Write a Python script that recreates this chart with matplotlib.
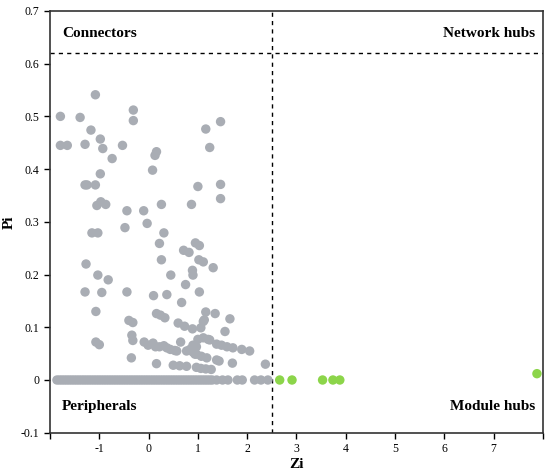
import matplotlib
matplotlib.use("Agg")
import matplotlib.pyplot as plt

plt.rcParams.update({
    "font.family": ["Liberation Serif", "DejaVu Serif"],
    "font.size": 8.5,
})

# ── Data ──────────────────────────────────────────────────────────────────────
# gray nodes with Pi > 0
zi_gray = [
    -1.79, -1.39, -1.08, -1.17, -0.98, -0.93, -1.79, -1.65, -1.29, -0.74, -0.53,
    -0.31, -0.31, 0.16, 0.13, 0.08, -0.98, -1.29, -1.25, -1.08, -0.97, -1.05,
    -0.87, -0.44, -0.10, -0.03, -0.48, 0.26, 0.31, 0.22, 0.26, -1.15, -1.03,
    -1.27, -1.03, -0.82, 0.45, 0.87, 1.00, 1.16, 1.24, 1.46, 1.46, 1.46, 0.95,
    1.03, 0.71, 0.82, 1.02, 1.11, 1.31, 0.89, 0.90,
    -1.29, -0.95, -0.44, 0.10, 0.37, 0.75, 1.03, 0.67, -1.07, 0.16, 0.24, 0.33,
    1.16, 1.35, 1.13, 1.11, 1.65, -0.40, -0.32, 0.60, 0.73, 0.89, 1.06, 1.55,
    -0.34, -0.32, -1.07, -1.00,
    -0.09, -0.01, 0.09, 0.14, 0.22, 0.31, 0.37, 0.44, 0.53, 0.65, 0.77, 0.84,
    0.90, 0.97, 1.00, 1.11, 1.21, 0.97, 1.07, 1.18, 1.38, 1.48, 1.59, 1.71,
    1.89, 2.05, 1.38, 1.43, 1.70, 0.16, -0.35, 0.50, 0.63, 0.77, 0.97, 1.06,
    1.16, 1.27, 2.37, 0.57, 0.90, 1.24, 0.94,
]
pi_gray = [
    0.500, 0.498, 0.541, 0.474, 0.457, 0.439, 0.445, 0.445, 0.447, 0.420, 0.445,
    0.512, 0.492, 0.433, 0.426, 0.398, 0.391, 0.370, 0.370, 0.370, 0.338, 0.331,
    0.333, 0.321, 0.321, 0.297, 0.289, 0.333, 0.279, 0.259, 0.228, 0.279, 0.279,
    0.220, 0.199, 0.190, 0.199, 0.333, 0.367, 0.476, 0.441, 0.490, 0.371, 0.344, 0.260,
    0.255, 0.246, 0.242, 0.228, 0.224, 0.213, 0.208, 0.199,
    0.167, 0.166, 0.167, 0.160, 0.162, 0.181, 0.167, 0.147, 0.130, 0.126, 0.123, 0.118,
    0.129, 0.126, 0.114, 0.111, 0.116, 0.113, 0.109, 0.108, 0.102, 0.097, 0.099, 0.092,
    0.085, 0.075, 0.072, 0.067,
    0.072, 0.066, 0.070, 0.063, 0.063, 0.065, 0.061, 0.058, 0.056, 0.072, 0.055, 0.058,
    0.053, 0.063, 0.077, 0.080, 0.077, 0.049, 0.045, 0.042, 0.068, 0.066, 0.063, 0.061,
    0.058, 0.055, 0.038, 0.036, 0.032, 0.031, 0.042, 0.028, 0.027, 0.026, 0.024, 0.022,
    0.021, 0.020, 0.030, 0.055, 0.066, 0.076, 0.049,
]

# gray nodes sitting on Pi = 0 (peripherals strip)
zi_base = [
    -1.86, -1.81, -1.76, -1.71, -1.66, -1.61, -1.56, -1.51, -1.46, -1.41, -1.36,
    -1.31, -1.26, -1.21, -1.16, -1.11, -1.06, -1.01, -0.96, -0.91, -0.86, -0.81,
    -0.76, -0.71, -0.66, -0.61, -0.56, -0.51, -0.46, -0.41, -0.36, -0.31, -0.26,
    -0.21, -0.16, -0.11, -0.06, -0.01, 0.04, 0.09, 0.14, 0.19, 0.24, 0.29, 0.34,
    0.39, 0.44, 0.49, 0.54, 0.59, 0.64, 0.69, 0.74, 0.79, 0.84, 0.89, 0.94, 0.99,
    1.04, 1.09, 1.14, 1.19, 1.24, 1.29, 1.38, 1.50, 1.61, 1.80, 1.90, 2.15, 2.28,
    2.42,
]
pi_base = [0.0] * len(zi_base)

# module hubs (green)
zi_hub = [2.66, 2.91, 3.53, 3.74, 3.88, 7.88]
pi_hub = [0.0, 0.0, 0.0, 0.0, 0.0, 0.012]

ZI_CUT = 2.5
PI_CUT = 0.62

GRAY = "#a9adb4"
GREEN = "#8cd54a"

# ── Plot ──────────────────────────────────────────────────────────────────────
fig = plt.figure(figsize=(5.5, 4.75), dpi=100)
ax = fig.add_axes([0.091, 0.089, 0.896, 0.888])

ax.scatter(zi_base, pi_base, s=46, color=GRAY, edgecolors="none", zorder=3)
ax.scatter(zi_gray, pi_gray, s=46, color=GRAY, edgecolors="none", zorder=3)
ax.scatter(zi_hub, pi_hub, s=46, color=GREEN, edgecolors="none", zorder=3)

ax.axvline(ZI_CUT, color="black", ls=(0, (3, 3)), lw=1, zorder=2)
ax.axhline(PI_CUT, color="black", ls=(0, (3, 3)), lw=1, zorder=2)

ax.set_xlim(-2, 8)
ax.set_ylim(-0.1, 0.7)
ax.set_xticks(range(-2, 9))
ax.set_xticklabels([""] + [str(v) for v in range(-1, 8)] + [""])
yt = [-0.1, 0, 0.1, 0.2, 0.3, 0.4, 0.5, 0.6, 0.7]
ax.set_yticks(yt)
ax.set_yticklabels(["-0.1", "0", "0.1", "0.2", "0.3", "0.4", "0.5", "0.6", "0.7"])
ax.tick_params(direction="out", length=4, width=1, colors="black", labelsize=8.5)

for sp in ax.spines.values():
    sp.set_linewidth(1.2)
    sp.set_color("#333333")

ax.set_xlabel("Zi", fontsize=11, fontweight="bold", labelpad=2)
ax.set_ylabel("Pi", fontsize=11, fontweight="bold", labelpad=4)

kw = dict(fontsize=11, fontweight="bold", transform=ax.transAxes, va="center")
ax.text(0.024, 0.947, "Connectors", ha="left", **kw)
ax.text(0.984, 0.947, "Network hubs", ha="right", **kw)
ax.text(0.024, 0.062, "Peripherals", ha="left", **kw)
ax.text(0.984, 0.062, "Module hubs", ha="right", **kw)

fig.savefig("out.png", dpi=100)
plt.close(fig)
